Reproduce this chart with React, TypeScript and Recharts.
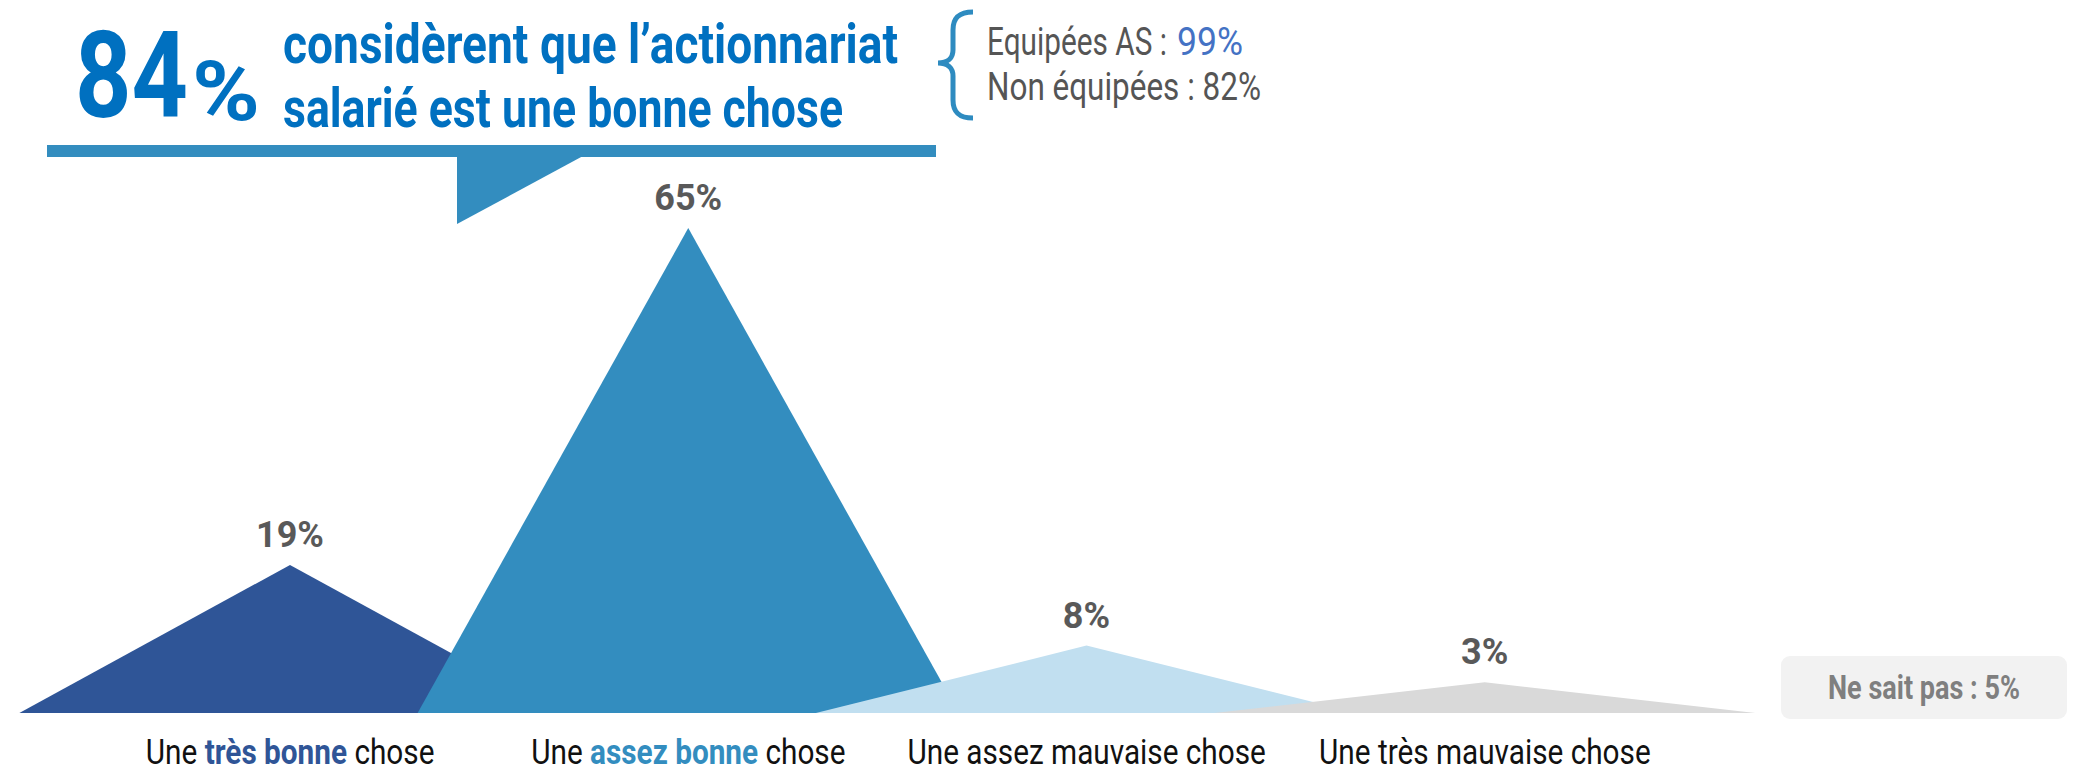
import { BarChart, Bar, XAxis, YAxis, Cell, LabelList } from 'recharts'

// answers to "l'actionnariat salarié est..." (% of respondents)
const categories = [
  'Une très bonne chose',
  'Une assez bonne chose',
  'Une assez mauvaise chose',
  'Une très mauvaise chose',
]
const highlights = ['très bonne', 'assez bonne', '', '']
const shares = [19, 65, 8, 3]
const colors = ['#2f5597', '#338dbf', '#c1dff0', '#d9d9d9']

const headlineValue = 84
const headlineLines = ['considèrent que l’actionnariat', 'salarié est une bonne chose']
const segmentLabels = ['Equipées AS :', 'Non équipées :']
const segmentValues = [99, 82]
const dontKnow = 5

const data = categories.map((name, i) => ({ name, value: shares[i] }))

const FONT = 'Roboto, "Liberation Sans", sans-serif'

// triangle "peak" drawn on the bar slot, base widened past the band
function Peak(props: any) {
  const { x, y, width, height, fill, background } = props
  const cx = x + width / 2
  const base = background ? background.y + background.height : y + height
  const half = width * 0.68
  return <path d={`M${cx - half},${base} L${cx},${y} L${cx + half},${base} Z`} fill={fill} />
}

function ValueLabel(props: any) {
  const { x, y, width, value } = props
  return (
    <text
      x={x + width / 2}
      y={y - 18}
      textAnchor="middle"
      fontFamily={FONT}
      fontWeight={700}
      fontSize={36}
      fill="#595959"
    >
      {value}%
    </text>
  )
}

function CategoryTick(props: any) {
  const { x, y, payload, index } = props
  const label: string = payload.value
  const hl = highlights[index] || ''
  const at = hl ? label.indexOf(hl) : -1
  const parts: Array<[string, boolean]> =
    at < 0
      ? [[label, false]]
      : [
          [label.slice(0, at), false],
          [hl, true],
          [label.slice(at + hl.length), false],
        ]
  return (
    <g transform={`translate(${x},${y + 51}) scale(0.85,1)`}>
      <text textAnchor="middle" fontFamily={FONT} fontSize={35} fill="#111111" xmlSpace="preserve">
        {parts.map(([t, strong], k) => (
          <tspan key={k} fontWeight={strong ? 700 : 400} fill={strong ? colors[index] : '#111111'}>
            {t}
          </tspan>
        ))}
      </text>
    </g>
  )
}

function Header() {
  return (
    <svg
      width={2075}
      height={773}
      style={{ position: 'absolute', left: 0, top: 0, pointerEvents: 'none' }}
    >
      <rect x={47} y={145} width={889} height={12} fill="#338dbf" />
      <path d="M457,156 L583,156 L457,224 Z" fill="#338dbf" />
      <text x={75} y={117} fontFamily={FONT} fontWeight={700} fontSize={120} fill="#0070c0"
        textLength={113} lengthAdjust="spacingAndGlyphs">
        {headlineValue}
      </text>
      <text x={192} y={120} fontFamily={FONT} fontWeight={700} fontSize={84} fill="#0070c0"
        textLength={68} lengthAdjust="spacingAndGlyphs">
        %
      </text>
      <text x={283} y={63} fontFamily={FONT} fontWeight={700} fontSize={55} fill="#0070c0"
        textLength={615} lengthAdjust="spacingAndGlyphs">
        {headlineLines[0]}
      </text>
      <text x={283} y={127} fontFamily={FONT} fontWeight={700} fontSize={55} fill="#0070c0"
        textLength={560} lengthAdjust="spacingAndGlyphs">
        {headlineLines[1]}
      </text>

      <path
        d="M973,12 C959,12 953,18 953,30 L953,50 C953,58 948,63 938,63 C948,63 953,68 953,76 L953,100 C953,112 959,118 973,118"
        fill="none"
        stroke="#2e8bc0"
        strokeWidth={5}
      />
      <text x={987} y={55} fontFamily={FONT} fontSize={38} fill="#555555"
        textLength={180} lengthAdjust="spacingAndGlyphs">
        {segmentLabels[0]}
      </text>
      <text x={1177} y={55} fontFamily={FONT} fontSize={38} fill="#4472c4"
        textLength={66} lengthAdjust="spacingAndGlyphs">
        {segmentValues[0]}%
      </text>
      <text x={987} y={100} fontFamily={FONT} fontSize={38} fill="#555555"
        textLength={274} lengthAdjust="spacingAndGlyphs">
        {segmentLabels[1]} {segmentValues[1]}%
      </text>

      <rect x={1781} y={656} width={286} height={63} rx={9} fill="#f2f2f2" />
      <text x={1828} y={699} fontFamily={FONT} fontWeight={700} fontSize={33} fill="#7f7f7f"
        textLength={192} lengthAdjust="spacingAndGlyphs">
        Ne sait pas : {dontKnow}%
      </text>
    </svg>
  )
}

export default function App() {
  return (
    <div style={{ position: 'absolute', left: 0, top: 0, width: 2075, height: 773, background: '#ffffff' }}>
      <BarChart
        width={2075}
        height={773}
        data={data}
        margin={{ top: 190, right: 391, left: 91, bottom: 0 }}
        barCategoryGap={0}
      >
        <XAxis
          dataKey="name"
          height={60}
          axisLine={false}
          tickLine={false}
          tickSize={0}
          tickMargin={0}
          interval={0}
          tick={<CategoryTick />}
        />
        <YAxis hide type="number" domain={[-1.2, 70.2]} />
        <Bar dataKey="value" shape={<Peak />} isAnimationActive={false}>
          {data.map((_, i) => (
            <Cell key={i} fill={colors[i]} />
          ))}
          <LabelList dataKey="value" content={<ValueLabel />} />
        </Bar>
      </BarChart>
      <Header />
    </div>
  )
}
